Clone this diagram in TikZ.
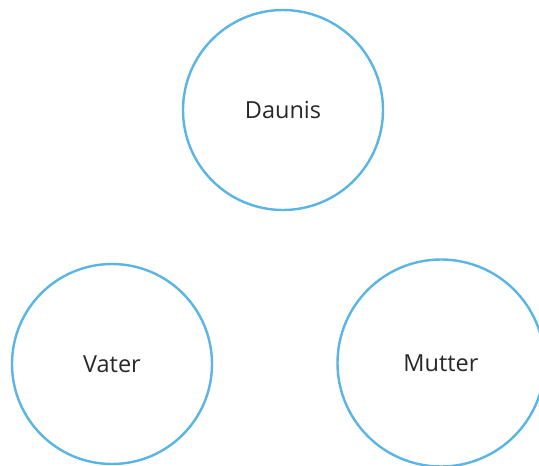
\documentclass[tikz,border=0pt]{standalone}
\usepackage{fontspec}
\setmainfont{Open Sans}
\definecolor{bleu}{RGB}{90,180,228}
\definecolor{texte}{RGB}{40,40,40}

\begin{document}
\begin{tikzpicture}[x=1pt,y=-1pt]
% Styles
\tikzstyle{cercle}=[circle,draw=bleu,line width=2.4pt,inner sep=0pt,text=texte,font=\fontsize{23.5}{28}\selectfont]
% Dimensions
\def\Rayon{200pt}
\def\NiveauA{110}
\def\NiveauB{364}
% Cadre
\useasboundingbox (0,0) rectangle (539,466);
\clip (0,0) rectangle (539,466);
% Noeuds
\node[cercle,minimum size=\Rayon] (D) at (283,\NiveauA) {Daunis};
\node[cercle,minimum size=\Rayon] (V) at (112,\NiveauB) {Vater};
\node[cercle,minimum size=207pt] (M) at (441,363) {Mutter};
\end{tikzpicture}
\end{document}
